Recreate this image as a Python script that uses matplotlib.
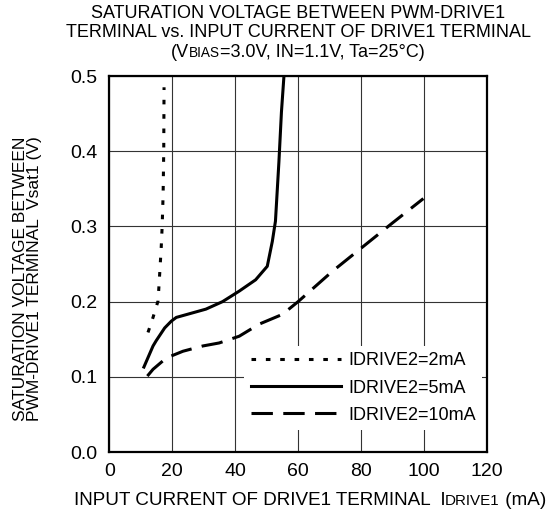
import matplotlib
matplotlib.use("Agg")
import matplotlib.pyplot as plt
from matplotlib.offsetbox import TextArea, HPacker, AnnotationBbox

plt.rcParams['font.family'] = ['Liberation Sans', 'DejaVu Sans']

# IDRIVE2 = 2 mA (dotted)
x_2ma = [12.3, 13.9, 15.5, 16.0, 16.5, 16.8, 17.1, 17.3, 17.4]
y_2ma = [0.159, 0.179, 0.201, 0.236, 0.272, 0.300, 0.342, 0.400, 0.485]

# IDRIVE2 = 5 mA (solid)
x_5ma = [11.0, 13.9, 14.9, 17.6, 19.7, 21.3, 30.7, 36.0, 41.3, 46.5, 50.2, 51.8, 52.8, 53.9, 54.7, 55.5]
y_5ma = [0.113, 0.141, 0.148, 0.165, 0.174, 0.179, 0.190, 0.200, 0.214, 0.229, 0.247, 0.280, 0.307, 0.386, 0.452, 0.500]

# IDRIVE2 = 10 mA (dashed)
x_10ma = [12.1, 13.9, 18.1, 23.4, 29.7, 34.9, 41.3, 47.6, 55.0, 60.0, 70.8, 80.0, 89.8, 99.8]
y_10ma = [0.101, 0.110, 0.125, 0.134, 0.141, 0.145, 0.154, 0.170, 0.183, 0.200, 0.240, 0.271, 0.304, 0.337]

labels = ['IDRIVE2=2mA', 'IDRIVE2=5mA', 'IDRIVE2=10mA']
x_ticks = [0, 20, 40, 60, 80, 100, 120]
y_ticks = [0.0, 0.1, 0.2, 0.3, 0.4, 0.5]

fig = plt.figure(figsize=(5.47, 5.15), dpi=100)
ax = fig.add_axes([0.1998, 0.1223, 0.6904, 0.7301])

lw = 2.2
ax.plot(x_2ma, y_2ma, color='black', lw=lw, linestyle=(0, (1.5, 3.2)), label=labels[0], dash_capstyle='butt')
ax.plot(x_5ma, y_5ma, color='black', lw=lw, linestyle='-', label=labels[1])
ax.plot(x_10ma, y_10ma, color='black', lw=lw, linestyle=(0, (7.0, 3.4)), label=labels[2], dash_capstyle='butt')

ax.set_xlim(0, 120)
ax.set_ylim(0, 0.5)
ax.set_xticks(x_ticks)
ax.set_yticks(y_ticks)
ax.set_xticklabels([str(v) for v in x_ticks])
ax.set_yticklabels([f"{v:.1f}" for v in y_ticks])
ax.tick_params(length=0, labelsize=14)
ax.tick_params(axis='y', pad=8.5)
ax.tick_params(axis='x', pad=8)
ax.grid(True, color='#333333', lw=0.8)
ax.set_axisbelow(True)
for s in ax.spines.values():
    s.set_linewidth(1.6)

leg = ax.legend(loc='lower right', bbox_to_anchor=(0.987, 0.0585), fontsize=13,
                handlelength=5.0, handletextpad=0.39, labelspacing=0.56,
                borderpad=0.35, borderaxespad=0, frameon=True, fancybox=False)
leg.get_frame().set_facecolor('white')
leg.get_frame().set_edgecolor('none')
leg.get_frame().set_alpha(1)

# title
ax.text(0.5, 1.1668, 'SATURATION VOLTAGE BETWEEN PWM-DRIVE1', transform=ax.transAxes,
        ha='center', va='center', fontsize=13)
ax.text(0.5, 1.1157, 'TERMINAL vs. INPUT CURRENT OF DRIVE1 TERMINAL', transform=ax.transAxes,
        ha='center', va='center', fontsize=13)


def mixed_text(parts, xy):
    boxes = [TextArea(t, textprops=dict(fontsize=fs)) for t, fs in parts]
    pack = HPacker(children=boxes, align='baseline', pad=0, sep=0)
    ab = AnnotationBbox(pack, xy, xycoords='axes fraction', frameon=False,
                        box_alignment=(0.5, 0.5), pad=0, annotation_clip=False)
    ax.add_artist(ab)


mixed_text([('(V', 13), ('BIAS', 9.8), ('=3.0V, IN=1.1V, Ta=25°C)', 13)], (0.5, 1.0625))
mixed_text([('INPUT CURRENT OF DRIVE1 TERMINAL  I', 13.6), ('DRIVE1', 10.9), (' (mA)', 13.6)], (0.531, -0.130))

fig.text(0.0503, 1 - 421 / 515, 'SATURATION VOLTAGE BETWEEN\nPWM-DRIVE1 TERMINAL  Vsat1 (V)',
         rotation=90, ha='center', va='bottom', multialignment='left',
         fontsize=12.5, linespacing=0.95)

fig.savefig('out.png', dpi=100)
